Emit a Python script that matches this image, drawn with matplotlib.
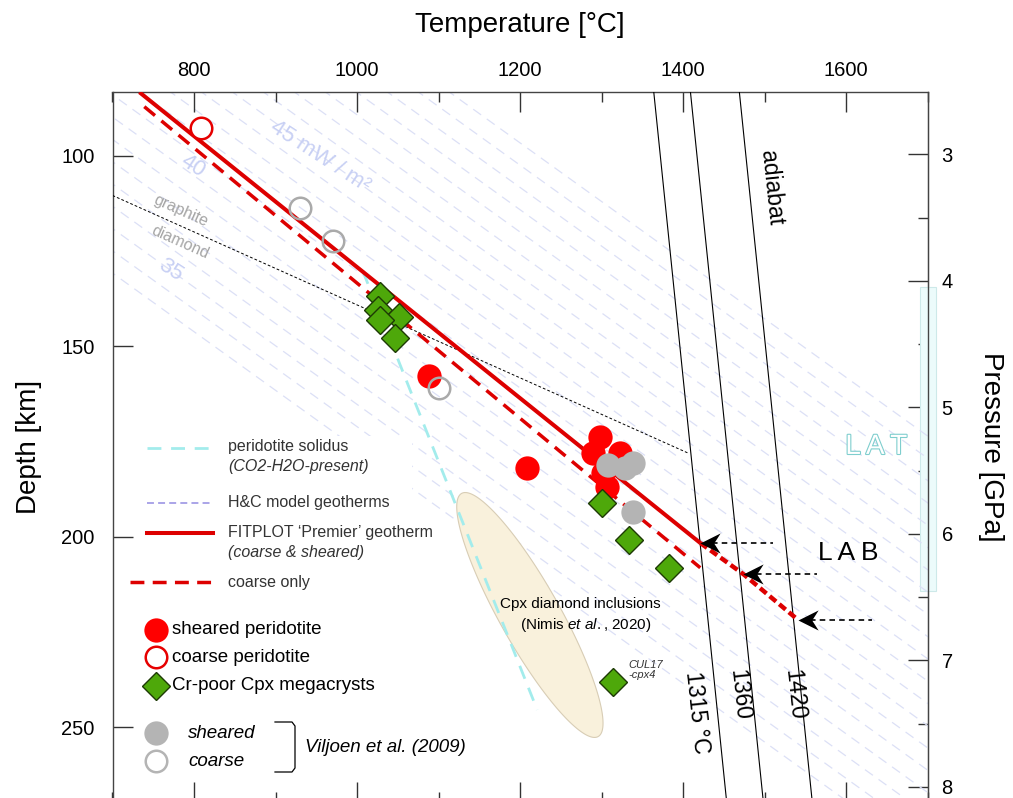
import numpy as np
import matplotlib.pyplot as plt
import matplotlib.patheffects as pe
from matplotlib.path import Path
from matplotlib.patches import Polygon, Rectangle
from matplotlib.transforms import blended_transform_factory

plt.rcParams['font.family'] = ['Liberation Sans', 'DejaVu Sans']
plt.rcParams['mathtext.fontset'] = 'custom'
plt.rcParams['mathtext.rm'] = 'Liberation Sans'
plt.rcParams['mathtext.it'] = 'Liberation Sans:italic'
plt.rcParams['lines.scale_dashes'] = False

# ---- data: temperature [°C], depth [km] ----
sheared_T = [1088, 1208, 1298, 1290, 1323, 1302, 1306]
sheared_depth = [157.9, 182.0, 173.7, 178.0, 178.0, 183.3, 186.8]
coarse_T = [809]
coarse_depth = [92.8]
megacryst_T = [1028, 1026, 1051, 1028, 1047, 1300, 1333, 1383, 1314]
megacryst_depth = [136.9, 140.4, 142.2, 143.0, 147.8, 191.2, 200.8, 208.2, 238.0]
vil_sheared_T = [1308, 1339, 1329, 1339]
vil_sheared_depth = [181.1, 180.7, 182.0, 193.4]
vil_coarse_T = [930, 971, 1100]
vil_coarse_depth = [113.8, 122.4, 161.0]

# FITPLOT geotherms
geotherm_T = [733, 1421]
geotherm_depth = [83.3, 201.6]
coarse_geo_T = [739, 1421]
coarse_geo_depth = [87.1, 208.1]
# LAB estimates where the geotherm meets each adiabat
lab_T = [1421, 1474, 1541]
lab_depth = [201.6, 209.8, 221.8]
lab_arrow_tail_T = [1510, 1564, 1632]

# mantle adiabats (potential temperatures)
adiabat_Tp = [1315, 1360, 1420]
adiabat_grad = 0.48   # °C/km
adiabat_offset = 9

solidus_T = [1007, 1221]
solidus_depth = [130.2, 245.4]

gr_di_T = [700, 1406]
gr_di_depth = [110.4, 178.0]

# H&C model geotherms: surface heat flow and temperature at 100 km
hc_q = [33, 34, 35, 36, 37, 38, 39, 40, 41, 42, 43, 44, 45, 46, 47, 48, 49, 50, 51, 52]
hc_T100 = [500, 538, 576, 614, 652, 690, 728, 766, 804, 842, 880, 918, 956, 994,
           1032, 1070, 1108, 1146, 1184, 1222]
hc_grad = 6.5   # °C/km

# Cpx diamond inclusions field (Nimis et al., 2020)
incl_center = (1212, 220.5)
incl_major = (83.8, 31.9)
incl_minor = (32.1, -3.9)

lat_depth = (134.4, 214.2)

km_per_gpa = 33.2

fig = plt.figure(figsize=(10.13, 7.98), dpi=100)
ax = fig.add_axes([112.5 / 1013, 1 - 801.7 / 798, 815.2 / 1013, 709.4 / 798])
ax.set_xlim(700, 1700)
ax.set_ylim(269.5, 83.33)


def fpx(x, y):
    return x / 1013, 1 - y / 798


# H&C geotherms (faint background)
d_span = np.array([75.0, 280.0])
for t100 in hc_T100:
    ax.plot(t100 + hc_grad * (d_span - 100), d_span, color='#dce0f6', lw=0.9,
            dashes=(7, 5), zorder=1)

# white panel behind the legend
for (x0, y0, x1, y1) in [(116, 436, 412, 798), (412, 712, 478, 798)]:
    a, b = fpx(x0, y1), fpx(x1, y0)
    ax.add_patch(Rectangle(a, b[0] - a[0], b[1] - a[1], transform=fig.transFigure,
                           facecolor='white', edgecolor='none', zorder=1.5))

# inclusion field
tt = np.linspace(0, 2 * np.pi, 200)
ex = incl_center[0] + incl_major[0] * np.cos(tt) + incl_minor[0] * np.sin(tt)
ey = incl_center[1] + incl_major[1] * np.cos(tt) + incl_minor[1] * np.sin(tt)
ax.add_patch(Polygon(np.column_stack([ex, ey]), closed=True, facecolor='#f9f1dc',
                     edgecolor='#d8cdb5', lw=0.8, zorder=2))

# solidus and graphite/diamond
ax.plot(solidus_T, solidus_depth, color='#a3ecec', lw=2.0, dashes=(10, 7), zorder=3)
ax.plot(gr_di_T, gr_di_depth, color='black', lw=0.7, dashes=(2, 1.5), zorder=3)

# adiabats
d_full = np.array([80.0, 275.0])
for tp in adiabat_Tp:
    ax.plot(tp + adiabat_offset + adiabat_grad * d_full, d_full, color='black', lw=0.8, zorder=3)

# geotherms
ax.plot(coarse_geo_T, coarse_geo_depth, color='#dd0000', lw=2.5, dashes=(10, 6), zorder=4)
ax.plot(geotherm_T, geotherm_depth, color='#dd0000', lw=2.9, solid_capstyle='butt', zorder=4)
ax.plot(lab_T, lab_depth, color='#dd0000', lw=3.2, dashes=(6, 3), zorder=4)

# LAB arrows
head = Path([(0, 0), (1.0, 0.5), (0.68, 0), (1.0, -0.5), (0, 0)],
            [Path.MOVETO, Path.LINETO, Path.LINETO, Path.LINETO, Path.CLOSEPOLY])
for t0, d0, t1 in zip(lab_T, lab_depth, lab_arrow_tail_T):
    ax.plot([t0 + 15, t1], [d0, d0], color='black', lw=1.2, dashes=(4, 3), zorder=5)
    ax.plot([t0], [d0], marker=head, ms=29, color='black', mew=0, zorder=6)

# samples
ax.plot(vil_coarse_T, vil_coarse_depth, 'o', ms=15.5, mfc='none', mec='#aaaaaa', mew=1.8, zorder=6)
ax.plot(sheared_T, sheared_depth, 'o', ms=17.5, color='#ff0000', mew=0, zorder=5)
ax.plot(coarse_T, coarse_depth, 'o', ms=15.5, mfc='white', mec='#e60000', mew=1.8, zorder=6)
ax.plot(vil_sheared_T, vil_sheared_depth, 'o', ms=17.5, color='#b4b4b4', mew=0, zorder=6)
ax.plot(megacryst_T, megacryst_depth, 'D', ms=14, mfc='#4ea80a', mec='#1d3a05', mew=1.0, zorder=7)

# labels inside the plot
lav = '#c8d0f4'
ax.text(954.6, 100.3, '45 mW / m²', color=lav, fontsize=16, rotation=-33,
        ha='center', va='center', zorder=2)
ax.text(798.8, 102.6, '40', color=lav, fontsize=16, rotation=-33, ha='center', va='center', zorder=2)
ax.text(770.6, 129.9, '35', color=lav, fontsize=16, rotation=-33, ha='center', va='center', zorder=2)
ax.text(784, 114.4, 'graphite', color='#a5a5a5', fontsize=11.5, rotation=-24,
        ha='center', va='center', zorder=3)
ax.text(782.8, 122.8, 'diamond', color='#a5a5a5', fontsize=11.5, rotation=-24,
        ha='center', va='center', zorder=3)
ax.text(1508, 108.4, 'adiabat', fontsize=16.5, rotation=-84, ha='center', va='center', zorder=3)
ax.text(1417, 246.2, '1315 °C', fontsize=16.5, rotation=-84, ha='center', va='center', zorder=3)
ax.text(1468.7, 241.5, '1360', fontsize=16.5, rotation=-84, ha='center', va='center', zorder=3)
ax.text(1536, 241.5, '1420', fontsize=16.5, rotation=-84, ha='center', va='center', zorder=3)
ax.text(1274, 217.6, 'Cpx diamond inclusions', fontsize=11, ha='center', va='center', zorder=3)
ax.text(1280, 223.1, r'(Nimis $\it{et\ al.}$, 2020)', fontsize=11, ha='center', va='center', zorder=3)
ax.text(1333, 235.0, 'CUL17\n-cpx4', fontsize=8, style='italic', color='#333333',
        ha='left', va='center', linespacing=1.0, zorder=3)
ax.text(1602, 204.2, 'L A B', fontsize=19, ha='center', va='center', zorder=3)
ax.text(1637, 176.4, 'L A T', fontsize=20, color='white', ha='center', va='center', zorder=3,
        path_effects=[pe.withStroke(linewidth=1.6, foreground='#7fcece')])

# LAT band straddling the right spine
bt = blended_transform_factory(ax.transAxes, ax.transData)
ax.add_patch(Rectangle((0.9906, lat_depth[0]), 0.0196, lat_depth[1] - lat_depth[0],
                       transform=bt, facecolor='#ecfbfb', edgecolor='#cde9e9', lw=0.8,
                       clip_on=False, zorder=0.5))

# axes styling
ax.xaxis.tick_top()
ax.set_xticks([800, 1000, 1200, 1400, 1600])
ax.set_xticks([700, 900, 1100, 1300, 1500, 1700], minor=True)
ax.set_yticks([100, 150, 200, 250])
ax.tick_params(axis='x', which='both', direction='in', top=True, bottom=True,
               labeltop=True, labelbottom=False, width=1.0, color='#333333')
ax.tick_params(axis='x', which='major', length=14.5, labelsize=14.5, pad=9)
ax.tick_params(axis='x', which='minor', length=7.2)
ax.tick_params(axis='y', which='major', direction='in', left=True, right=False,
               length=14.5, width=1.0, color='#333333', labelsize=14.5, pad=13)
for s in ax.spines.values():
    s.set_color('#444444')
    s.set_linewidth(1.0)
ax.set_xlabel('Temperature [°C]', fontsize=20)
ax.xaxis.set_label_position('top')
ax.xaxis.labelpad = 21
ax.set_ylabel('Depth [km]', fontsize=20, labelpad=14)

sec = ax.secondary_yaxis('right', functions=(lambda d: d / km_per_gpa, lambda p: p * km_per_gpa))
sec.set_yticks([3, 4, 5, 6, 7, 8])
sec.set_yticks([3.5, 4.5, 5.5, 6.5, 7.5], minor=True)
sec.tick_params(which='major', direction='in', length=14.5, width=1.0, color='#333333',
                labelsize=14.5, pad=10)
sec.tick_params(which='minor', direction='in', length=7.2, width=1.0, color='#333333')
sec.spines['right'].set_color('#444444')
sec.set_ylabel('Pressure [GPa]', fontsize=20, rotation=-90, labelpad=37)

# legend, drawn by hand
ltxt = '#333333'


def leg_line(x0, x1, y, **kw):
    a, b = fpx(x0, y), fpx(x1, y)
    fig.add_artist(plt.Line2D([a[0], b[0]], [a[1], b[1]], **kw))


def leg_text(x, y, s, **kw):
    fx, fy = fpx(x, y)
    fig.text(fx, fy, s, va='center', ha='left', **kw)


def leg_marker(y, **kw):
    fx, fy = fpx(156, y)
    fig.add_artist(plt.Line2D([fx], [fy], **kw))


leg_line(147, 213, 448, color='#a3ecec', lw=2.0, dashes=(10, 7))
leg_text(228, 447, 'peridotite solidus', fontsize=11.5, color=ltxt)
leg_text(228, 467, '(CO2-H2O-present)', fontsize=11.5, color=ltxt, style='italic')
leg_line(147, 213, 503, color='#a49de6', lw=1.3, dashes=(5, 3))
leg_text(228, 503, 'H&C model geotherms', fontsize=11.5, color=ltxt)
leg_line(147, 213, 533, color='#dd0000', lw=2.9)
leg_text(228, 533, 'FITPLOT ‘Premier’ geotherm', fontsize=11.5, color=ltxt)
leg_text(228, 553, '(coarse & sheared)', fontsize=11.5, color=ltxt, style='italic')
leg_line(130, 213, 582, color='#dd0000', lw=2.5, dashes=(10, 6))
leg_text(228, 582, 'coarse only', fontsize=11.5, color=ltxt)

leg_marker(630, marker='o', ms=17.5, color='#ff0000', mew=0)
leg_text(172, 630, 'sheared peridotite', fontsize=13.5)
leg_marker(657, marker='o', ms=15.5, mfc='white', mec='#e60000', mew=1.8)
leg_text(172, 657, 'coarse peridotite', fontsize=13.5)
leg_marker(686, marker='D', ms=14, mfc='#4ea80a', mec='#1d3a05', mew=1.0)
leg_text(172, 686, 'Cr-poor Cpx megacrysts', fontsize=13.5)
leg_marker(733, marker='o', ms=17.5, color='#b4b4b4', mew=0)
leg_text(188, 733, 'sheared', fontsize=13.5, style='italic')
leg_marker(761, marker='o', ms=15.5, mfc='white', mec='#b4b4b4', mew=1.8)
leg_text(188, 761, 'coarse', fontsize=13.5, style='italic')
bracket = [fpx(*p) for p in [(275, 722), (292, 722), (295, 726), (295, 768), (292, 772), (275, 772)]]
fig.add_artist(plt.Line2D([p[0] for p in bracket], [p[1] for p in bracket], color='black', lw=0.9))
leg_text(305, 748, 'Viljoen et al. (2009)', fontsize=13.5, style='italic')

fig.savefig('out.png', dpi=100)
